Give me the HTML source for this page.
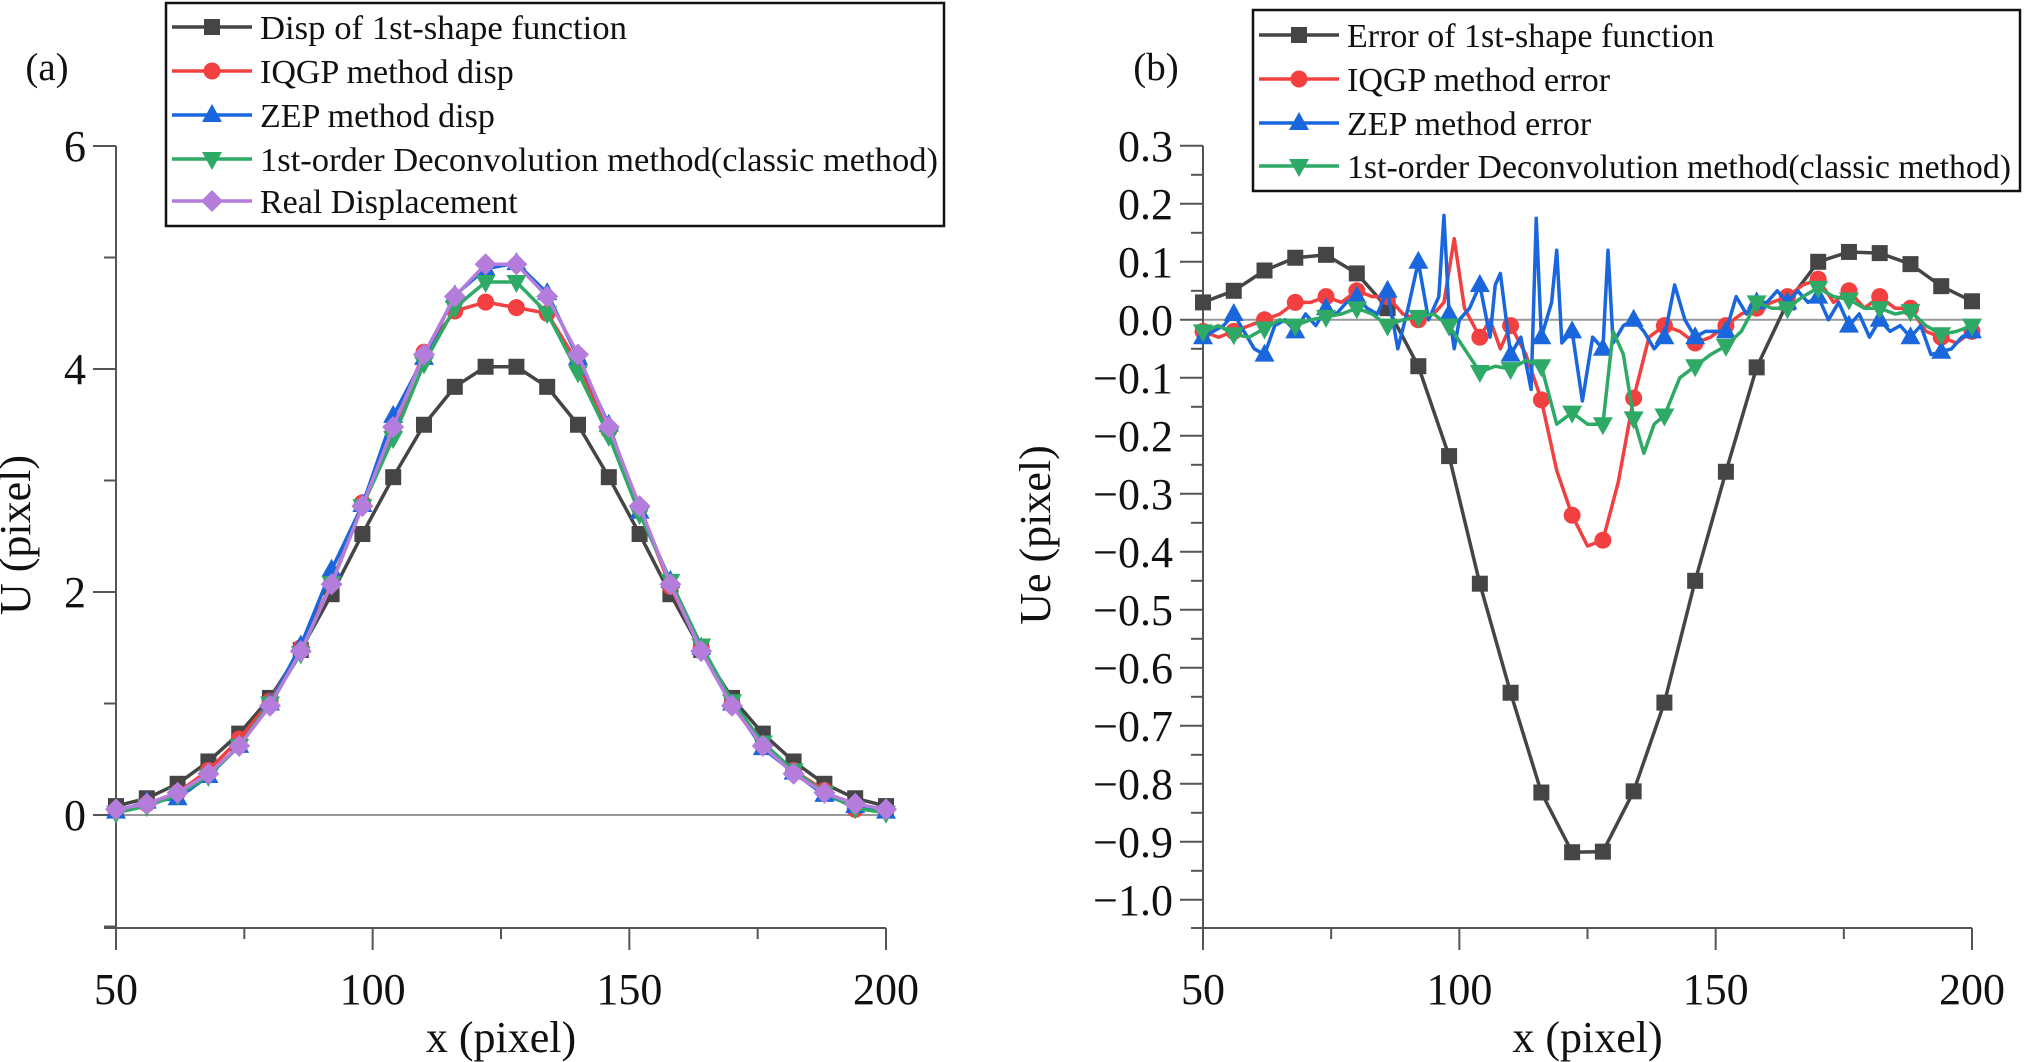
<!DOCTYPE html>
<html><head><meta charset="utf-8"><style>
html,body{margin:0;padding:0;background:#fff;}
svg{display:block;font-family:"Liberation Serif","Times New Roman",serif;}
text{font-family:"Liberation Serif","Times New Roman",serif;}
</style></head><body>
<svg id="fig" width="2034" height="1062" viewBox="0 0 2034 1062" xmlns="http://www.w3.org/2000/svg">
<g id="pa"></g>
<g id="pb"></g>
</svg>
<script>
// ---------- Panel (a) data ----------
const xA = [50,56,62,68,74,80,86,92,98,104,110,116,122,128,134,140,146,152,158,164,170,176,182,188,194,200];
const dispShape = [0.08,0.15,0.28,0.48,0.73,1.05,1.48,1.98,2.52,3.03,3.5,3.84,4.02,4.02,3.84,3.5,3.03,2.52,1.98,1.48,1.05,0.73,0.48,0.28,0.15,0.08];
const dispIQGP = [0.04,0.1,0.2,0.4,0.68,1.02,1.5,2.08,2.8,3.45,4.15,4.52,4.6,4.55,4.5,4.05,3.45,2.75,2.05,1.5,1.0,0.62,0.4,0.22,0.05,0.04];
const dispZEP = [0.03,0.12,0.15,0.35,0.62,1.0,1.52,2.2,2.78,3.58,4.1,4.66,4.9,4.95,4.68,4.1,3.5,2.72,2.1,1.5,1.0,0.6,0.38,0.18,0.08,0.03];
const dispDeconv = [0.02,0.08,0.18,0.35,0.62,1.0,1.45,2.08,2.77,3.38,4.05,4.55,4.78,4.78,4.5,3.97,3.4,2.7,2.1,1.52,1.02,0.65,0.4,0.2,0.06,0.02];
const dispReal = [0.05,0.1,0.2,0.37,0.62,0.98,1.47,2.07,2.77,3.48,4.13,4.65,4.94,4.94,4.65,4.13,3.48,2.77,2.07,1.47,0.98,0.62,0.37,0.2,0.1,0.05];
const yTicksA = [-1,0,1,2,3,4,5,6];
const yLabelsA = ["","0","","2","","4","","6"];
const xTicks = [50,75,100,125,150,175,200];
const xLabels = ["50","","100","","150","","200"];

// ---------- Panel (b) data ----------
const xErrShape = [50,56,62,68,74,80,86,92,98,104,110,116,122,128,134,140,146,152,158,164,170,176,182,188,194,200];
const errShape = [0.03,0.05,0.085,0.107,0.112,0.08,0.02,-0.08,-0.235,-0.455,-0.643,-0.815,-0.918,-0.917,-0.813,-0.66,-0.45,-0.262,-0.082,0.03,0.1,0.117,0.115,0.096,0.058,0.032];
const xErrIQGP = [50,53,56,59,62,65,68,71,74,77,80,83,86,89,92,95,97,99,101,104,106,108,110,113,116,119,122,125,128,131,134,137,140,143,146,149,152,155,158,161,164,167,170,173,176,179,182,185,188,191,194,197,200];
const errIQGP = [-0.02,-0.03,-0.02,-0.01,0.0,0.01,0.03,0.03,0.04,0.03,0.05,0.04,0.04,0.01,0.0,0.01,0.03,0.14,0.02,-0.03,0.0,-0.05,-0.01,-0.06,-0.138,-0.26,-0.337,-0.39,-0.38,-0.28,-0.135,-0.03,-0.01,-0.02,-0.04,-0.03,-0.01,0.01,0.02,0.03,0.04,0.06,0.07,0.03,0.05,0.02,0.04,0.02,0.02,-0.02,-0.03,-0.04,-0.02];
const xErrZEP = [50,52,54,56,58,60,62,64,66,68,70,72,74,76,78,80,82,84,86,88,90,92,94,96,97,98,99,100,102,104,106,107,108,110,112,114,115,116,118,119,120,122,124,126,128,129,130,132,134,136,138,140,142,144,146,148,150,152,154,156,158,160,162,164,166,168,170,172,174,176,178,180,182,184,186,188,190,192,194,196,198,200];
const errZEP = [-0.03,-0.02,-0.01,0.01,-0.02,-0.05,-0.06,-0.01,0.0,-0.02,0.01,-0.01,0.02,0.01,0.03,0.04,0.02,0.01,0.05,-0.05,0.02,0.1,0.0,0.04,0.18,0.01,-0.05,0.0,0.02,0.06,-0.03,0.06,0.08,-0.06,-0.03,-0.12,0.175,-0.03,0.03,0.12,-0.04,-0.02,-0.14,-0.03,-0.05,0.12,-0.04,-0.01,0.0,-0.02,-0.05,-0.03,0.06,0.0,-0.03,-0.02,-0.02,-0.02,0.04,0.01,0.03,0.03,0.05,0.03,0.05,0.03,0.04,0.0,0.03,-0.01,0.01,-0.03,0.0,-0.02,-0.01,-0.03,-0.01,-0.06,-0.055,-0.05,-0.03,-0.02];
const xErrDeconv = [50,53,56,59,62,65,68,71,74,77,80,83,86,89,92,95,98,101,104,107,110,113,116,119,122,125,128,130,132,134,136,138,140,143,146,149,152,155,158,161,164,167,170,173,176,179,182,185,188,191,194,197,200];
const errDeconv = [-0.02,-0.01,-0.025,-0.03,-0.015,0.0,-0.01,0.0,0.005,0.01,0.02,0.01,-0.01,0.0,0.005,0.01,-0.01,-0.05,-0.09,-0.08,-0.085,-0.07,-0.08,-0.18,-0.16,-0.18,-0.18,-0.02,-0.06,-0.17,-0.23,-0.18,-0.165,-0.1,-0.08,-0.06,-0.045,-0.02,0.03,0.02,0.02,0.04,0.055,0.04,0.035,0.02,0.02,0.01,0.015,-0.01,-0.025,-0.02,-0.01];
const yTicksB = [0.3,0.2,0.1,0.0,-0.1,-0.2,-0.3,-0.4,-0.5,-0.6,-0.7,-0.8,-0.9,-1.0];
const yLabelsB = ["0.3","0.2","0.1","0.0","\u22120.1","\u22120.2","\u22120.3","\u22120.4","\u22120.5","\u22120.6","\u22120.7","\u22120.8","\u22120.9","\u22121.0"];

const NS = "http://www.w3.org/2000/svg";
const FONT = "Liberation Serif, Times New Roman, serif";
const C = {black:"#454545", red:"#f24040", blue:"#1a66dd", green:"#2eaa66", purple:"#b47ddc"};
function mk(parent, tag, attrs){ const e=document.createElementNS(NS,tag); for(const k in attrs) e.setAttribute(k,attrs[k]); parent.appendChild(e); return e; }

function marker(g, type, x, y, color){
  let e;
  if(type==="square") e=mk(g,"rect",{x:x-8,y:y-8,width:16,height:16,fill:color});
  else if(type==="circle") e=mk(g,"circle",{cx:x,cy:y,r:8.5,fill:color});
  else if(type==="up") e=mk(g,"polygon",{points:`${x},${y-11} ${x-10},${y+7} ${x+10},${y+7}`,fill:color});
  else if(type==="down") e=mk(g,"polygon",{points:`${x},${y+11} ${x-10},${y-7} ${x+10},${y-7}`,fill:color});
  else e=mk(g,"polygon",{points:`${x},${y-11} ${x+11},${y} ${x},${y+11} ${x-11},${y}`,fill:color});
  return e;
}

function panel(g, o){
  const X=v=>o.x0+(v-50)*(o.x1-o.x0)/150;
  const Y=v=>o.yZero-(v)*o.ppu;
  const zl=mk(g,"line",{x1:o.x0,x2:o.x1,y1:Y(0),y2:Y(0),stroke:"#999",'stroke-width':2});
  
  
  const ya=mk(g,"line",{x1:o.x0,x2:o.x0,y1:o.yTop,y2:o.bottom,stroke:"#555",'stroke-width':2});
  
  
  const xa=mk(g,"line",{x1:o.x0-12,x2:o.x1,y1:o.bottom,y2:o.bottom,stroke:"#555",'stroke-width':2});
  
  
  o.yt.forEach((v,i)=>{
    const maj=o.yl[i]!=="" ; const y=Y(v);
    mk(g,"line",{x1:o.x0-(maj?23:12),x2:o.x0,y1:y,y2:y,stroke:"#555",'stroke-width':2});
    if(o.minor){ const ym=Y(v-o.minor); if(ym<o.bottom-2) mk(g,"line",{x1:o.x0-12,x2:o.x0,y1:ym,y2:ym,stroke:"#555",'stroke-width':2}); }
    if(maj){ const t=mk(g,"text",{x:o.x0-30,y:y+15,'text-anchor':"end",'font-size':44,'font-family':FONT,fill:"#111"}); t.textContent=o.yl[i];
      
       }
  });
  xTicks.forEach((v,i)=>{
    const x=X(v), maj=xLabels[i]!=="";
    mk(g,"line",{x1:x,x2:x,y1:o.bottom,y2:o.bottom+(maj?22:11),stroke:"#555",'stroke-width':2});
    if(maj){ const t=mk(g,"text",{x:x,y:1004,'text-anchor':"middle",'font-size':44,'font-family':FONT,fill:"#111"}); t.textContent=xLabels[i];
      
       }
  });
  const xt=mk(g,"text",{x:(o.x0+o.x1)/2,y:1052,'text-anchor':"middle",'font-size':44,'font-family':FONT,fill:"#111"}); xt.textContent="x (pixel)";
  
  
  const ytt=mk(g,"text",{x:0,y:0,'text-anchor':"middle",'font-size':44,'font-family':FONT,fill:"#111",transform:`translate(${o.ytx},535) rotate(-90)`}); ytt.textContent=o.ytitle;
  
  
  const pl=mk(g,"text",{x:o.lblx,y:80,'text-anchor':"middle",'font-size':39,'font-family':FONT,fill:"#111"}); pl.textContent=o.label;
  
  
  o.series.forEach(s=>{
    const sg=mk(g,"g",{});
    
    
    mk(sg,"polyline",{points:s.xs.map((x,i)=>X(x)+","+Y(s.ys[i])).join(" "),fill:"none",stroke:s.color,'stroke-width':3.5,'stroke-linejoin':"round"});
    s.xs.forEach((x,i)=>{ if((x-50)%6===0){ const m=marker(sg,s.m,X(x),Y(s.ys[i]),s.color);
      
       } });
  });
  const lg=mk(g,"g",{});
  
  
  mk(lg,"rect",{x:o.leg.x,y:o.leg.y,width:o.leg.w,height:o.leg.h,fill:"#fff",stroke:"#111",'stroke-width':2.5});
  o.series.forEach((s,i)=>{
    const y=o.leg.rows[i];
    const eg=mk(lg,"g",{});
    
    
    mk(eg,"line",{x1:o.leg.x+6,x2:o.leg.x+86,y1:y,y2:y,stroke:s.color,'stroke-width':3.5});
    marker(eg,s.m,o.leg.x+46,y,s.color);
    const t=mk(eg,"text",{x:o.leg.x+94,y:y+12,'font-size':34,'font-family':FONT,fill:"#111"});
    if(s.tl) { t.setAttribute("textLength",s.tl); t.setAttribute("lengthAdjust","spacingAndGlyphs"); }
    t.textContent=s.label;
  });
}

panel(document.getElementById("pa"),{
  x0:116,x1:886,yZero:815,ppu:(815-146)/6,yTop:146,bottom:928,
  yt:yTicksA,yl:yLabelsA,minor:0,ytitle:"U (pixel)",ytx:30,label:"(a)",lblx:47,
  leg:{x:166,y:3,w:778,h:223,rows:[27,71,115,159,201]},
  series:[
    {name:"series-disp-1st-shape",xs:xA,ys:dispShape,color:C.black,m:"square",label:"Disp of 1st-shape function",tl:367},
    {name:"series-iqgp-disp",xs:xA,ys:dispIQGP,color:C.red,m:"circle",label:"IQGP method disp"},
    {name:"series-zep-disp",xs:xA,ys:dispZEP,color:C.blue,m:"up",label:"ZEP method disp"},
    {name:"series-deconvolution-disp",xs:xA,ys:dispDeconv,color:C.green,m:"down",label:"1st-order Deconvolution method(classic method)",tl:678},
    {name:"series-real-displacement",xs:xA,ys:dispReal,color:C.purple,m:"diamond",label:"Real Displacement"}
  ]
});
panel(document.getElementById("pb"),{
  x0:1203,x1:1972,yZero:319.8,ppu:580,yTop:145.7,bottom:928,
  yt:yTicksB,yl:yLabelsB,minor:0.05,ytitle:"Ue (pixel)",ytx:1050,label:"(b)",lblx:1156,
  leg:{x:1253,y:10,w:767,h:181,rows:[35,79,123,166]},
  series:[
    {name:"series-error-1st-shape",xs:xErrShape,ys:errShape,color:C.black,m:"square",label:"Error of 1st-shape function"},
    {name:"series-iqgp-error",xs:xErrIQGP,ys:errIQGP,color:C.red,m:"circle",label:"IQGP method error"},
    {name:"series-zep-error",xs:xErrZEP,ys:errZEP,color:C.blue,m:"up",label:"ZEP method error"},
    {name:"series-deconvolution-error",xs:xErrDeconv,ys:errDeconv,color:C.green,m:"down",label:"1st-order Deconvolution method(classic method)",tl:664}
  ]
});
</script>
</body></html>
